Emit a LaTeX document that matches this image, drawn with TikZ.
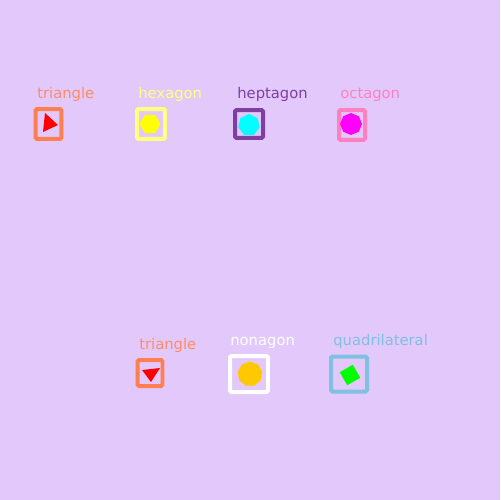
\documentclass[tikz,border=0pt]{standalone}
\usepackage{fontspec}
\setmainfont{DejaVu Sans}
\usetikzlibrary{shapes.geometric}
\definecolor{bg}{RGB}{227,200,252}
\definecolor{coralc}{RGB}{255,127,80}
\definecolor{coralt}{RGB}{255,140,100}
\definecolor{yelb}{RGB}{255,255,128}
\definecolor{purp}{RGB}{127,63,159}
\definecolor{pinkc}{RGB}{255,128,192}
\definecolor{blueb}{RGB}{128,192,224}
\definecolor{gold}{RGB}{255,200,0}
\definecolor{cyanc}{RGB}{0,255,255}
\definecolor{magc}{RGB}{255,0,255}
\definecolor{yelc}{RGB}{255,255,0}
\definecolor{redc}{RGB}{255,0,0}
\definecolor{greenc}{RGB}{0,255,0}
\tikzset{
  x=0.02cm, y=-0.02cm,
  box/.style={draw=#1, line width=0.08cm, rounded corners=0.03cm, fill=none, inner sep=0pt, outer sep=0pt},
  lbl/.style={text=#1, font=\fontsize{8.4pt}{9pt}\selectfont, anchor=base west, inner sep=0pt},
  poly/.style={regular polygon, regular polygon sides=#1, inner sep=0pt, draw=none},
}
\begin{document}
\begin{tikzpicture}
\fill[bg] (0,0) rectangle (500,500);
\useasboundingbox (0,0) rectangle (500,500);
% top row
\node[lbl=coralt] (l1) at (37,98) {triangle};
\node[box=coralc, minimum width=0.52cm, minimum height=0.60cm] (b1) at (48.5,124) {};
\fill[redc] (45,113) -- (58,125) -- (43,132) -- cycle;

\node[lbl=yelb] (l2) at (138,98) {hexagon};
\node[box=yelb, minimum width=0.56cm, minimum height=0.60cm] (b2) at (151,124) {};
\node[poly=6, fill=yelc, minimum size=0.42cm] (s2) at (150,124) {};

\node[lbl=purp] (l3) at (237,98) {heptagon};
\node[box=purp, minimum width=0.56cm, minimum height=0.56cm] (b3) at (249,124) {};
\node[poly=7, fill=cyanc, minimum size=0.44cm] (s3) at (249,125) {};

\node[lbl=pinkc] (l4) at (340,98) {octagon};
\node[box=pinkc, minimum width=0.52cm, minimum height=0.60cm] (b4) at (352,125) {};
\node[poly=8, fill=magc, minimum size=0.44cm, shape border rotate=22.5] (s4) at (351,124) {};

% bottom row
\node[lbl=coralt] (l5) at (139,349) {triangle};
\node[box=coralc, minimum width=0.50cm, minimum height=0.52cm] (b5) at (150,373) {};
\fill[redc] (142,370) -- (160,368) -- (151,382) -- cycle;

\node[lbl=white] (l6) at (230,345) {nonagon};
\node[box=white, minimum width=0.76cm, minimum height=0.72cm] (b6) at (249,374) {};
\node[poly=9, fill=gold, minimum size=0.50cm] (s6) at (250,374) {};

\node[lbl=blueb] (l7) at (333,345) {quadrilateral};
\node[box=blueb, minimum width=0.72cm, minimum height=0.70cm] (b7) at (349,374) {};
\node[draw=none, fill=greenc, minimum size=0.30cm, inner sep=0pt, rotate=30] (s7) at (350,375) {};
\end{tikzpicture}
\end{document}
